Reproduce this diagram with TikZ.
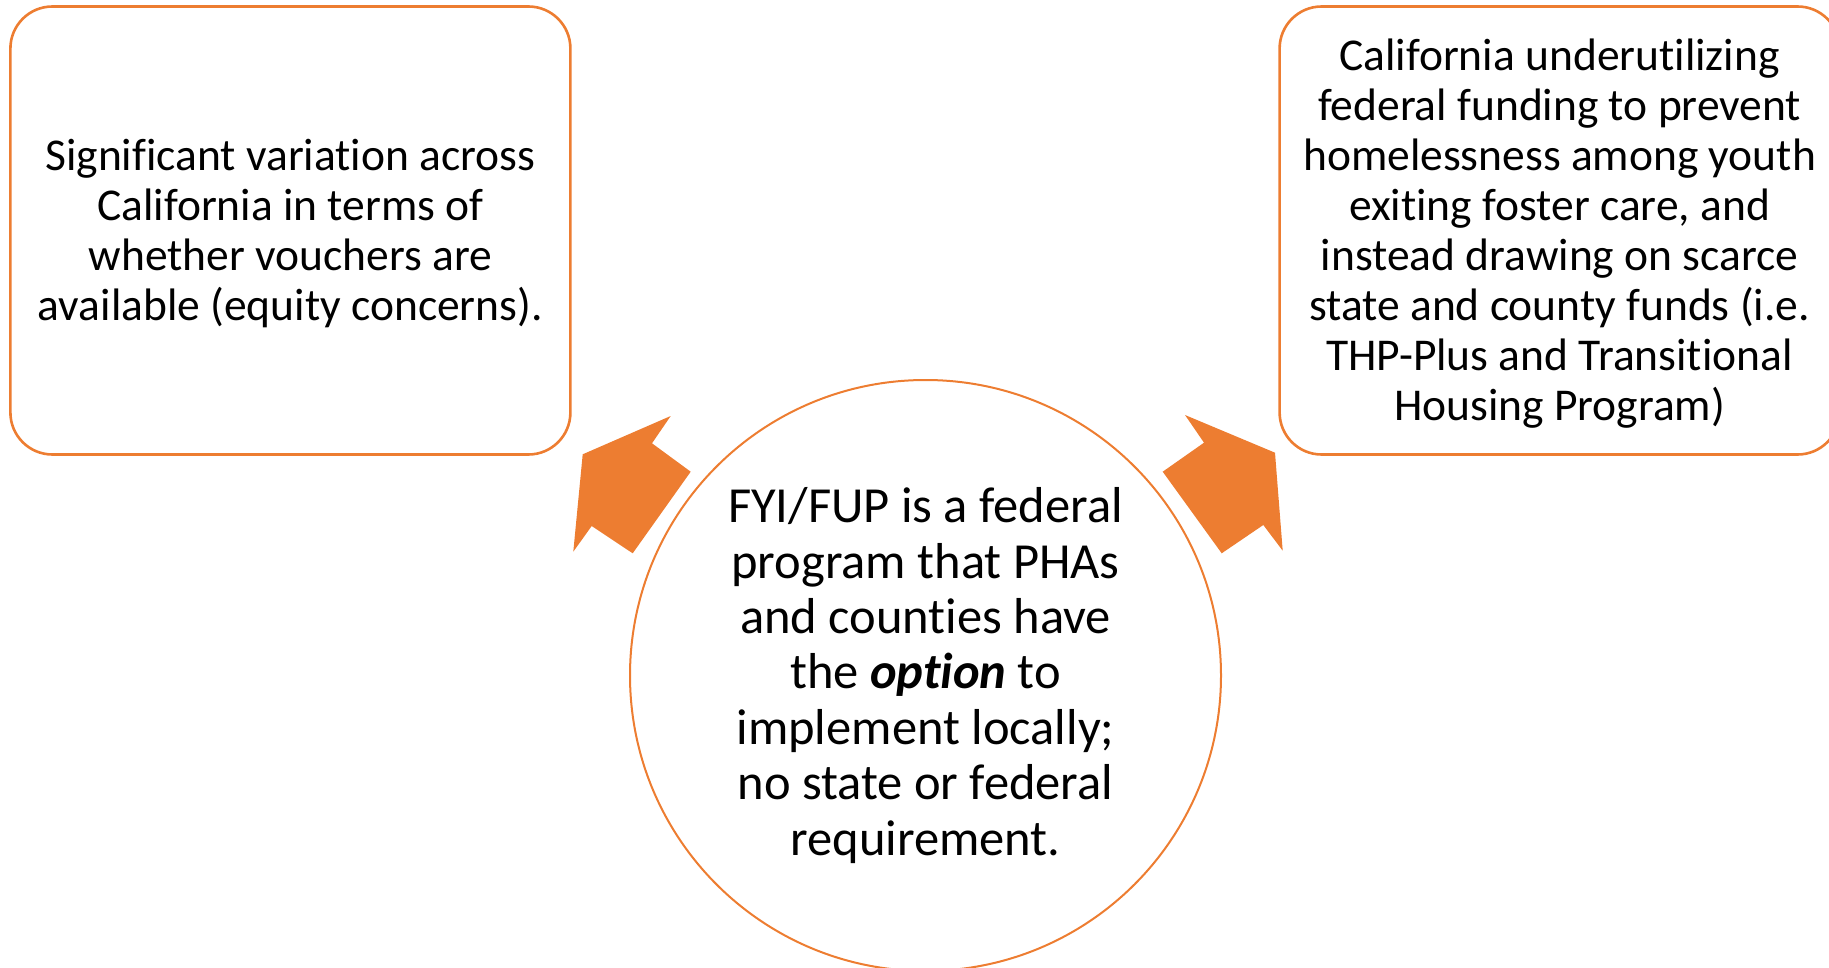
\documentclass[tikz,border=0pt]{standalone}
\usepackage{fontspec}
\setmainfont{Carlito}[Ligatures=NoCommon]
\definecolor{accent}{HTML}{ED7D31}
\begin{document}
\begin{tikzpicture}[x=1pt,y=-1pt,
  infobox/.style={draw=accent, line width=2.6pt, rounded corners=42pt,
    minimum width=560pt, minimum height=448pt, inner sep=0pt},
  boxtext/.style={align=center, inner sep=0pt, font=\fontsize{45.5}{50}\selectfont},
  hub/.style={circle, draw=accent, line width=2pt, minimum size=591pt, inner sep=0pt},
  hubtext/.style={align=center, inner sep=0pt, font=\fontsize{50.5}{55.4}\selectfont},
  bigarrow/.style={fill=accent, draw=none}]
\useasboundingbox (0,0) rectangle (1829,968);

% two outcome boxes (the right one runs past the edge)
\node[infobox] (left) at (290.4,230.5) {};
\node[boxtext] (lefttext) at ([yshift=-3pt]left.center)
  {Significant variation across\\California in terms of\\whether vouchers are\\available (equity concerns).};
\node[infobox] (right) at (1559.6,230.5) {};
\node[boxtext] (righttext) at ([yshift=-3pt]right.center)
  {California underutilizing\\federal funding to prevent\\homelessness among youth\\exiting foster care, and\\instead drawing on scarce\\state and county funds (i.e.\\THP-Plus and Transitional\\Housing Program)};

% central circle
\node[hub] (hubc) at (925.5,675.5) {};
\node[hubtext] (hubcaption) at (hubc.center)
  {FYI/FUP is a federal\\program that PHAs\\and counties have\\the \textbf{\textit{option}} to\\implement locally;\\no state or federal\\requirement.};

% block arrows pointing out towards the boxes
\fill[bigarrow] (670.7,416) -- (652,443.3) -- (690.7,471.7) -- (632.7,553.3)
  -- (591.7,526) -- (573.3,551.7) -- (582.7,454.3) -- cycle;
\fill[bigarrow] (1185,415) -- (1204,442.7) -- (1162.7,471.7) -- (1221.7,553.3)
  -- (1263.3,525) -- (1282.7,550.7) -- (1275,452.7) -- cycle;
\end{tikzpicture}
\end{document}
